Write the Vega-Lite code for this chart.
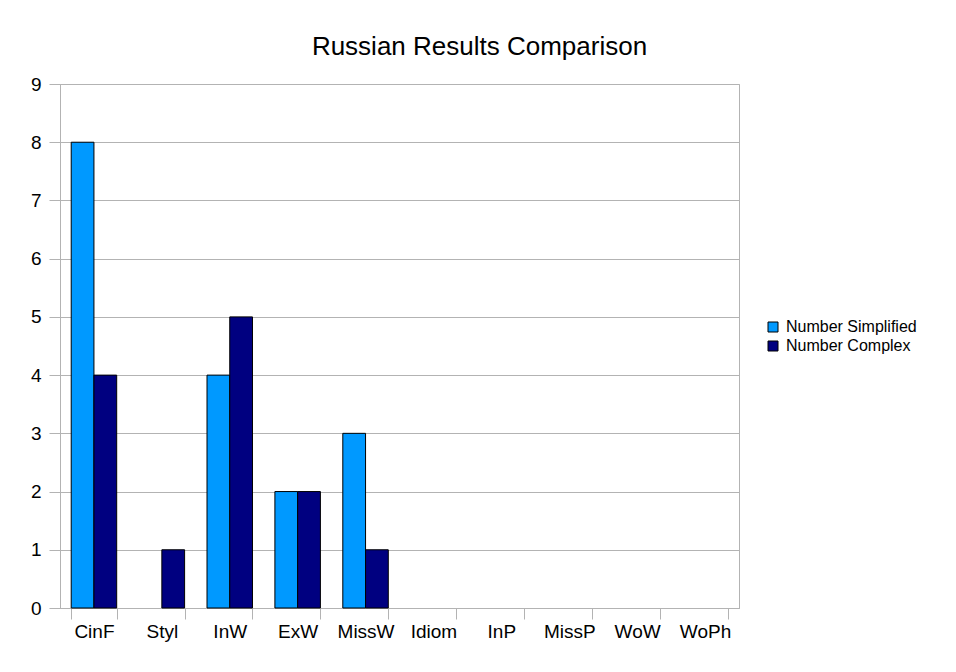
{
  "$schema": "https://vega.github.io/schema/vega-lite/v6.json",
  "width": 679,
  "height": 524,
  "autosize": {"type": "none"},
  "padding": {"left": 60, "top": 84, "right": 217, "bottom": 64},
  "background": "white",
  "title": {
    "text": "Russian Results Comparison",
    "font": "Liberation Sans",
    "fontSize": 26,
    "fontWeight": "normal",
    "color": "#000000",
    "anchor": "middle",
    "dx": 80,
    "offset": 15
  },
  "data": {
    "values": [
      {"category": "CinF", "series": "Number Simplified", "value": 8},
      {"category": "CinF", "series": "Number Complex", "value": 4},
      {"category": "Styl", "series": "Number Simplified", "value": 0},
      {"category": "Styl", "series": "Number Complex", "value": 1},
      {"category": "InW", "series": "Number Simplified", "value": 4},
      {"category": "InW", "series": "Number Complex", "value": 5},
      {"category": "ExW", "series": "Number Simplified", "value": 2},
      {"category": "ExW", "series": "Number Complex", "value": 2},
      {"category": "MissW", "series": "Number Simplified", "value": 3},
      {"category": "MissW", "series": "Number Complex", "value": 1},
      {"category": "Idiom", "series": "Number Simplified", "value": 0},
      {"category": "Idiom", "series": "Number Complex", "value": 0},
      {"category": "InP", "series": "Number Simplified", "value": 0},
      {"category": "InP", "series": "Number Complex", "value": 0},
      {"category": "MissP", "series": "Number Simplified", "value": 0},
      {"category": "MissP", "series": "Number Complex", "value": 0},
      {"category": "WoW", "series": "Number Simplified", "value": 0},
      {"category": "WoW", "series": "Number Complex", "value": 0},
      {"category": "WoPh", "series": "Number Simplified", "value": 0},
      {"category": "WoPh", "series": "Number Complex", "value": 0}
    ]
  },
  "mark": {"type": "bar", "stroke": "#000000", "strokeWidth": 1},
  "encoding": {
    "x": {
      "field": "category",
      "type": "nominal",
      "sort": null,
      "scale": {
        "domain": ["CinF", "Styl", "InW", "ExW", "MissW", "Idiom", "InP", "MissP", "WoW", "WoPh"],
        "paddingInner": 0.33,
        "paddingOuter": 0.165
      },
      "axis": {
        "title": null,
        "labelAngle": 0,
        "tickBand": "extent",
        "tickSize": 11,
        "tickColor": "#b3b3b3",
        "domainColor": "#b3b3b3",
        "labelFont": "Liberation Sans",
        "labelFontSize": 19,
        "labelColor": "#000000",
        "labelPadding": 3,
        "grid": false
      }
    },
    "xOffset": {
      "field": "series",
      "type": "nominal",
      "sort": ["Number Simplified", "Number Complex"],
      "scale": {"paddingInner": 0, "paddingOuter": 0}
    },
    "y": {
      "field": "value",
      "type": "quantitative",
      "scale": {"domain": [0, 9], "nice": false},
      "axis": {
        "title": null,
        "values": [0, 1, 2, 3, 4, 5, 6, 7, 8, 9],
        "tickSize": 11,
        "tickColor": "#b3b3b3",
        "domainColor": "#b3b3b3",
        "gridColor": "#b3b3b3",
        "labelFont": "Liberation Sans",
        "labelFontSize": 19,
        "labelColor": "#000000",
        "labelPadding": 8
      }
    },
    "color": {
      "field": "series",
      "type": "nominal",
      "sort": ["Number Simplified", "Number Complex"],
      "scale": {"domain": ["Number Simplified", "Number Complex"], "range": ["#0099ff", "#000080"]},
      "legend": {
        "title": null,
        "orient": "none",
        "legendX": 705,
        "legendY": 235,
        "padding": 0,
        "symbolType": "square",
        "symbolSize": 100,
        "symbolStrokeColor": "#000000",
        "symbolStrokeWidth": 1,
        "labelFont": "Liberation Sans",
        "labelFontSize": 16,
        "labelColor": "#000000",
        "labelOffset": 5,
        "rowPadding": 3
      }
    },
    "strokeOpacity": {
      "condition": {"test": "datum.value === 0", "value": 0},
      "value": 1
    }
  },
  "config": {
    "view": {"stroke": "#b3b3b3"},
    "axis": {"gridColor": "#b3b3b3"}
  }
}
